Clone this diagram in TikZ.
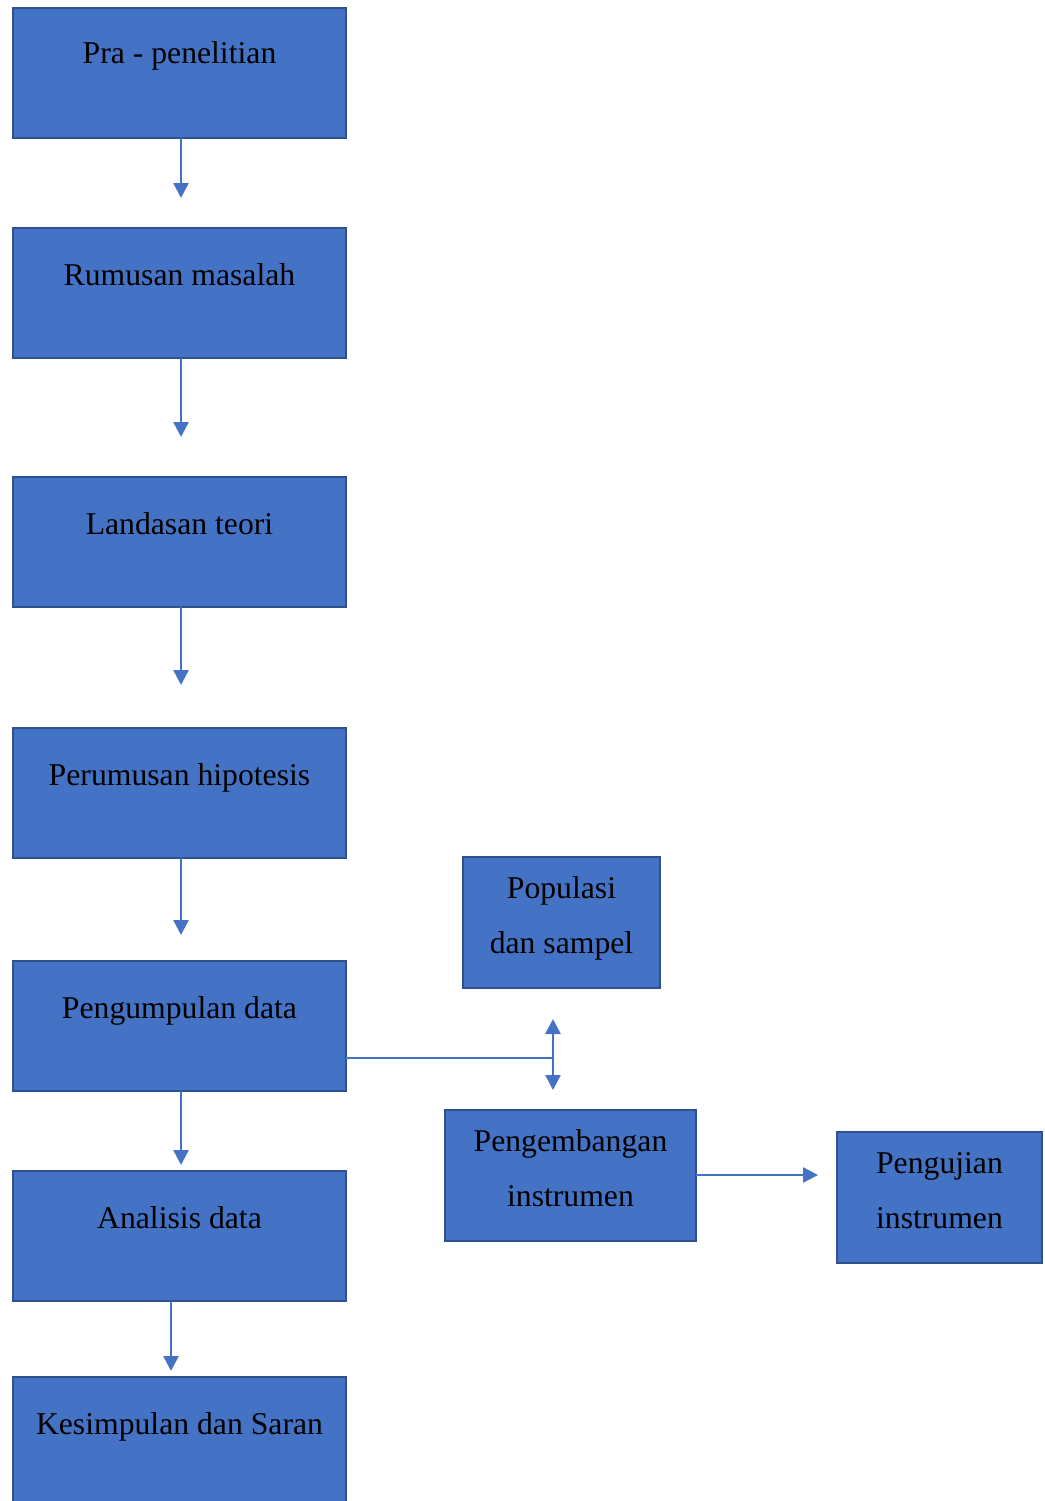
\documentclass[tikz,border=0pt]{standalone}
\usepackage{fontspec}
\setmainfont{Liberation Serif}
\usetikzlibrary{arrows.meta}
\definecolor{boxfill}{HTML}{4472C4}
\definecolor{boxline}{HTML}{2F528F}
\definecolor{arr}{HTML}{4472C4}
\begin{document}
\begin{tikzpicture}[x=1pt,y=-1pt,
  box/.style={draw=boxline,line width=2pt,fill=boxfill,inner sep=0,outer sep=0},
  txt/.style={anchor=base,inner sep=0,font=\fontsize{31.7}{38}\selectfont},
  flow/.style={draw=arr,line width=2.5pt,-{Triangle[width=15pt,length=15pt]}},
  link/.style={draw=arr,line width=1.3pt}]
\useasboundingbox (0,0) rectangle (1044,1501);
% boxes
\node[box,minimum width=333pt,minimum height=130pt] (b1) at (179.5,73) {};
\node[box,minimum width=333pt,minimum height=130pt] (b2) at (179.5,293) {};
\node[box,minimum width=333pt,minimum height=130pt] (b3) at (179.5,542) {};
\node[box,minimum width=333pt,minimum height=130pt] (b4) at (179.5,793) {};
\node[box,minimum width=333pt,minimum height=130pt] (b5) at (179.5,1026) {};
\node[box,minimum width=333pt,minimum height=130pt] (b6) at (179.5,1236) {};
\node[box,minimum width=333pt,minimum height=140pt] (b7) at (179.5,1447) {};
\node[box,minimum width=197pt,minimum height=131pt] (pop) at (561.5,922.5) {};
\node[box,minimum width=251pt,minimum height=131pt] (dev) at (570.5,1175.5) {};
\node[box,minimum width=205pt,minimum height=131pt] (test) at (939.5,1197.5) {};
% texts
\node[txt] (t1) at (179.5,64) {Pra - penelitian};
\node[txt] (t2) at (179.5,285) {Rumusan masalah};
\node[txt] (t3) at (179.5,534) {Landasan teori};
\node[txt] (t4) at (179.5,785) {Perumusan hipotesis};
\node[txt] (t5) at (179.5,1018) {Pengumpulan data};
\node[txt] (t6) at (179.5,1228) {Analisis data};
\node[txt] (t7) at (179.5,1434) {Kesimpulan dan Saran};
\node[txt] (t8a) at (561.5,898) {Populasi};
\node[txt] (t8b) at (561.5,953) {dan sampel};
\node[txt] (t9a) at (570.5,1151) {Pengembangan};
\node[txt] (t9b) at (570.5,1206) {instrumen};
\node[txt] (t10a) at (939.5,1173) {Pengujian};
\node[txt] (t10b) at (939.5,1228) {instrumen};
% free ends
\coordinate (e1) at (181,198);
\coordinate (e2) at (181,437);
\coordinate (e3) at (181,685);
\coordinate (e4) at (181,935);
\coordinate (e5) at (181,1165);
\coordinate (e6) at (171,1371);
\coordinate (j) at (553,1058);
\coordinate (up) at (553,1019);
\coordinate (dn) at (553,1090);
\coordinate (e9) at (818,1175);
% connectors
\draw[flow] (b1.south -| e1) -- (e1);
\draw[flow] (b2.south -| e2) -- (e2);
\draw[flow] (b3.south -| e3) -- (e3);
\draw[flow] (b4.south -| e4) -- (e4);
\draw[flow] (b5.south -| e5) -- (e5);
\draw[flow] (b6.south -| e6) -- (e6);
\draw[link] (b5.east |- j) -- (j);
\draw[flow,{Triangle[width=15pt,length=15pt]}-{Triangle[width=15pt,length=15pt]}] (up) -- (dn);
\draw[flow] (dev.east |- e9) -- (e9);
\end{tikzpicture}
\end{document}
